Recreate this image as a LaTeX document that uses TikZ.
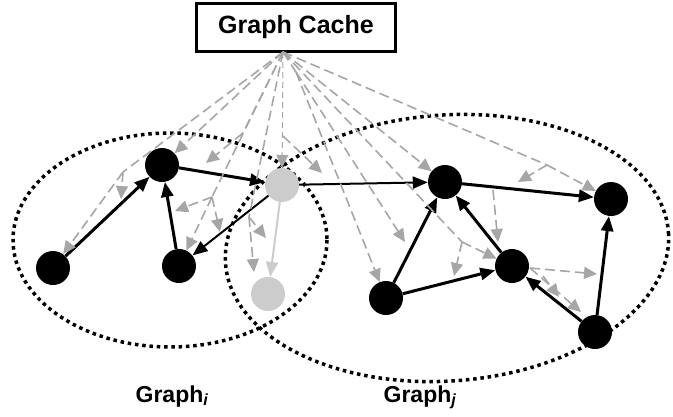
\documentclass[tikz,border=0pt]{standalone}
\usepackage{fontspec}
\setmainfont{Liberation Sans}
\usetikzlibrary{arrows.meta}

\begin{document}
\begin{tikzpicture}[x=1pt, y=-1pt,
vertex/.style={circle, fill=black, minimum size=34pt, inner sep=0pt},
ghost/.style={circle, fill=black!20, minimum size=34pt, inner sep=0pt},
cachebox/.style={rectangle, draw, line width=2.5pt, minimum width=199pt, minimum height=48pt, font=\fontsize{25}{30}\selectfont\bfseries},
caption/.style={anchor=base, font=\fontsize{23}{27}\selectfont\bfseries},
link/.style={line width=3pt, -{Triangle[length=15pt,width=12pt]}},
thinlink/.style={link, line width=2pt},
fadedlink/.style={thinlink, black!20},
lookup/.style={black!35, line width=1.6pt, dash pattern=on 10pt off 5pt, -{Triangle[length=13pt,width=12pt]}},
probe/.style={lookup, line width=1pt, dash pattern=on 6pt off 4pt},
ring/.style={line width=3.5pt, dash pattern=on 3.5pt off 3.8pt},
]
\useasboundingbox (0,0) rectangle (673,416);

%Graphs
\draw[ring] (170,240) ellipse [x radius=157, y radius=107];
\draw[ring, rotate around={4:(447,248)}] (447,248) ellipse [x radius=222, y radius=133];

%Nodes
\node[cachebox] (cache) at (296,27.5) {Graph Cache};
\node[vertex]   (a)  at (162,165) {};
\node[vertex]   (b)  at (53,268)  {};
\node[vertex]   (c)  at (179,266) {};
\node[ghost]    (g1) at (282,185) {};
\node[ghost]    (g2) at (268,294) {};
\node[vertex]   (d)  at (445,182) {};
\node[vertex]   (e)  at (611,199) {};
\node[vertex]   (f)  at (512,266) {};
\node[vertex]   (h)  at (386,298) {};
\node[vertex]   (k)  at (595,332) {};
\node[caption]  (gicap) at (172,402) {Graph\textsubscript{\itshape i}};
\node[caption]  (gjcap) at (420,402) {Graph\textsubscript{\itshape j}};

%Forks and tips
\coordinate (tap) at (283,52);
\coordinate (p0) at (296,72);
\coordinate (p1) at (123,172);
\coordinate (p2) at (243,133);
\coordinate (p3) at (212,197);
\coordinate (p4) at (249,217);
\coordinate (p5) at (283,136);
\coordinate (p6) at (462,242);
\coordinate (p7) at (547,165);
\coordinate (s1) at (493,190);
\coordinate (s2) at (530,268);
\coordinate (s3) at (543,276);
\coordinate (ba) at (121,199);
\coordinate (ag) at (206,163);
\coordinate (ca) at (175,211);
\coordinate (gc) at (220,232);
\coordinate (gg) at (266,238);
\coordinate (gt) at (254,272);
\coordinate (gd) at (322,173);
\coordinate (hd) at (405,242);
\coordinate (hf) at (454,276);
\coordinate (fd) at (498,242);
\coordinate (de) at (518,182);
\coordinate (ke) at (597,274);
\coordinate (kf) at (559,297);
\coordinate (kt) at (581,312);

%Lines
\draw[link] (b) -- (a);
\draw[link] (c) -- (a);
\draw[link] (a) -- (g1);
\draw[thinlink] (g1) -- (c);
\draw[thinlink] (g1) -- (d);
\draw[fadedlink] (g1) -- (g2);
\draw[link] (d) -- (e);
\draw[link] (h) -- (d);
\draw[link] (h) -- (f);
\draw[link] (f) -- (d);
\draw[link] (k) -- (f);
\draw[link] (k) -- (e);

%Cache lookups
\draw[lookup] (tap) -- (a);
\draw[lookup,-] (tap) -- (p1);
\draw[lookup] (p1) -- (b);
\draw[lookup] (p1) -- (ba);
\draw[lookup,-] (tap) -- (p2);
\draw[lookup] (p2) -- (ag);
\draw[lookup,-] (tap) -- (p3);
\draw[lookup] (p3) -- (ca);
\draw[lookup] (p3) -- (c);
\draw[lookup] (p3) -- (gc);
\draw[lookup,-] (tap) -- (p4);
\draw[lookup] (p4) -- (gg);
\draw[lookup] (p4) -- (gt);
\draw[probe] (tap) -- (g1);
\draw[lookup] (p5) -- (gd);
\draw[lookup,-] (tap) -- (p0);
\draw[lookup] (p0) -- (h);
\draw[lookup] (p0) -- (hd);
\draw[lookup] (tap) -- (d);
\draw[lookup,-] (tap) -- (p6);
\draw[lookup] (p6) -- (f);
\draw[lookup] (p6) -- (hf);
\draw[lookup,-] (tap) -- (p7);
\draw[lookup] (p7) -- (de);
\draw[lookup] (p7) -- (e);
\draw[lookup] (s1) -- (fd);
\draw[lookup] (s2) -- (ke);
\draw[lookup] (s3) -- (kf);
\draw[lookup] (s2) -- (kt);
\end{tikzpicture}
\end{document}
